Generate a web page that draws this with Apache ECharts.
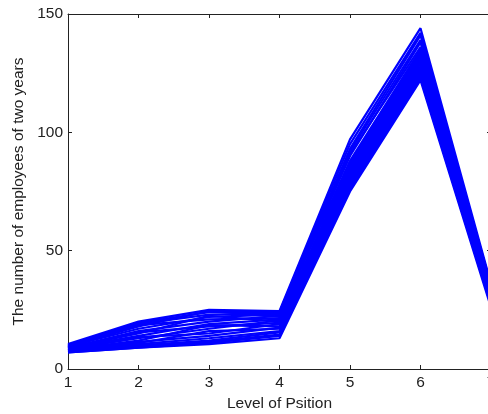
<!DOCTYPE html>
<html>
<head>
<meta charset="utf-8">
<script src="https://cdn.jsdelivr.net/npm/echarts@6/dist/echarts.min.js"></script>
<style>
  html, body { margin: 0; padding: 0; background: #fff; }
  #chart { width: 488px; height: 414px; }
</style>
</head>
<body>
<div id="chart"></div>
<script>
// position levels on the x axis
var levels = [1, 2, 3, 4, 5, 6, 7];
var yTicks = [0, 50, 100, 150];

// employee counts of the runs, one row per line, one value per level
var employeeRuns = [
  [10.5, 20, 25, 24.5, 97, 144, 36],
  [10, 19.5, 24, 24, 95, 142, 35],
  [9.8, 19, 23, 23.5, 93, 141, 34.5],
  [9.5, 18, 24.5, 22, 92, 139, 35.5],
  [9.5, 17, 22, 23, 90, 138, 33],
  [9.2, 18.5, 21, 21.5, 91, 136, 34],
  [9, 16, 20, 22.5, 88, 135, 32.5],
  [9, 15, 22.5, 20, 87, 134, 33.5],
  [8.8, 14, 19, 21, 86, 133, 32],
  [8.5, 15.5, 18, 19.5, 85, 132, 31],
  [8.5, 13, 17, 20.5, 84, 131, 31.5],
  [8.2, 12, 18.5, 18, 83, 130, 30],
  [8, 13.5, 15, 19, 82, 129, 30.5],
  [8, 11, 16, 17, 81, 128, 29.5],
  [7.8, 11.5, 14, 17.5, 80, 127, 29],
  [7.5, 10.5, 13, 16, 79, 126, 28.5],
  [7.5, 10, 12, 15.5, 78, 125, 28],
  [7.2, 9.5, 11.5, 14.5, 77, 124, 27.5],
  [7, 9, 11, 14, 76, 123, 27],
  [7, 9, 10.5, 13, 75, 122, 26]
];

var font = "'Liberation Sans', Arial, sans-serif";
var axisColor = "#222";

// matlab style box: hidden labels on top / right, ticks pointing inside
function boxX(pos, showLabel) {
  return {
    type: "value",
    position: pos,
    min: levels[0],
    max: levels[levels.length - 1],
    interval: 1,
    axisLine: { show: true, onZero: false, lineStyle: { color: axisColor, width: 1 } },
    axisTick: { show: true, inside: true, length: 4, lineStyle: { color: axisColor } },
    axisLabel: { show: showLabel, margin: 6, color: axisColor, fontSize: 15.5, fontFamily: font },
    splitLine: { show: false }
  };
}
function boxY(pos, showLabel) {
  return {
    type: "value",
    position: pos,
    min: yTicks[0],
    max: yTicks[yTicks.length - 1],
    interval: 50,
    axisLine: { show: true, onZero: false, lineStyle: { color: axisColor, width: 1 } },
    axisTick: { show: true, inside: true, length: 4, lineStyle: { color: axisColor } },
    axisLabel: { show: showLabel, margin: 5, color: axisColor, fontSize: 15.5, fontFamily: font },
    splitLine: { show: false }
  };
}

var xBottom = boxX("bottom", true);
xBottom.name = "Level of Psition";
xBottom.nameLocation = "middle";
xBottom.nameGap = 27;
xBottom.nameTextStyle = { color: axisColor, fontSize: 15.5, fontFamily: font };

var yLeft = boxY("left", true);
yLeft.name = "The number of employees of two years";
yLeft.nameLocation = "middle";
yLeft.nameGap = 38;
yLeft.nameTextStyle = { color: axisColor, fontSize: 15.5, fontFamily: font };

var series = employeeRuns.map(function (run, i) {
  return {
    name: "run" + (i + 1),
    type: "line",
    xAxisIndex: 0,
    yAxisIndex: 0,
    showSymbol: false,
    symbol: "none",
    clip: true,
    lineStyle: { color: "#0000ff", width: 2.2 },
    data: run.map(function (v, k) { return [levels[k], v]; })
  };
});

var myChart = echarts.init(document.getElementById("chart"));
myChart.setOption({
  animation: false,
  backgroundColor: "#fff",
  grid: { left: 68, top: 14, width: 423, height: 355, outerBoundsMode: "none", containLabel: false },
  xAxis: [xBottom, boxX("top", false)],
  yAxis: [yLeft, boxY("right", false)],
  series: series
});
</script>
</body>
</html>
